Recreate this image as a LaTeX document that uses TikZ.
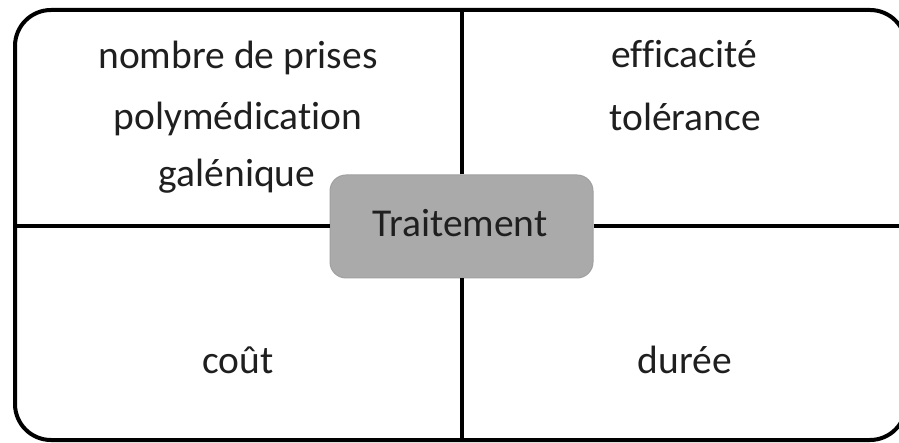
\documentclass[tikz,border=0pt]{standalone}
\usepackage{fontspec}
\setmainfont{Carlito}[Ligatures=NoCommon]
\definecolor{boxgray}{RGB}{170,170,170}
\definecolor{boxedge}{RGB}{160,160,160}
\tikzset{
  lbl/.style={anchor=base, inner sep=0pt, font=\fontsize{39.5}{47}\selectfont, text=black!88},
  centerbox/.style={fill=boxgray, draw=boxedge, line width=1pt, rounded corners=16pt, minimum width=263pt, minimum height=103pt, inner sep=0pt},
  divider/.style={line width=4pt, draw=black}
}
\begin{document}
\begin{tikzpicture}[x=1pt, y=-1pt]
\useasboundingbox (0,0) rectangle (899,443);
\clip (0,0) rectangle (899,443);
\fill[white] (0,0) rectangle (899,443);
% outer frame
\draw[divider, rounded corners=36pt] (15,10) rectangle (906,440);
% edge coordinates
\coordinate (ftop) at (461.5,10);
\coordinate (fbot) at (461.5,440);
\coordinate (fleft) at (15,226.5);
\coordinate (fright) at (906,226.5);
% center box
\node[centerbox] (c) at (461.5,226.5) {};
\node[lbl] (ct) at (460,237) {Traitement};
% dividers
\draw[divider] (c.north) -- (ftop);
\draw[divider] (c.south) -- (fbot);
\draw[divider] (c.west) -- (fleft);
\draw[divider] (c.east) -- (fright);
% quadrant texts
\node[lbl] (t1) at (238,69) {nombre de prises};
\node[lbl] (t2) at (238,130) {polymédication};
\node[lbl] (t3) at (237,187) {galénique};
\node[lbl] (t4) at (684,68) {efficacité};
\node[lbl] (t5) at (685,131) {tolérance};
\node[lbl] (t6) at (238,373) {coût};
\node[lbl] (t7) at (685,373) {durée};
\end{tikzpicture}
\end{document}
